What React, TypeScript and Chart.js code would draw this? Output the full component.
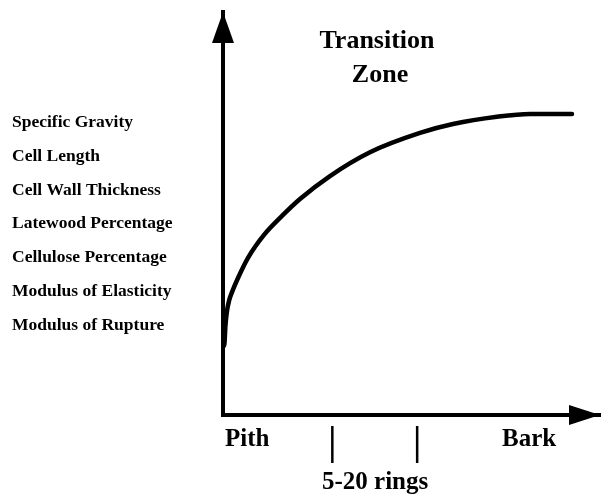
import React, { useEffect, useRef } from "react";
import { Chart, registerables } from "chart.js";

Chart.register(...registerables);

// Schematic data: radial position (pith -> bark, %) vs. relative property level (%)
const ringPosition = [0.27, 0.4, 0.66, 1.06, 1.59, 2.39, 3.98, 6.63, 10.88, 15.65, 20.42, 28.38, 38.99, 52.25, 61.01, 72.68, 81.43, 92.57];
const propertyLevel = [17.2, 17.9, 22.3, 25.8, 28.3, 30.5, 34.0, 39.0, 44.7, 49.4, 53.6, 59.3, 65.2, 70.0, 72.2, 74.0, 74.7, 74.7];

const propertyLabels = [
  "Specific Gravity",
  "Cell Length",
  "Cell Wall Thickness",
  "Latewood Percentage",
  "Cellulose Percentage",
  "Modulus of Elasticity",
  "Modulus of Rupture",
];
const titleLines = ["Transition", "Zone"];
const pithLabel = "Pith";
const barkLabel = "Bark";
const zoneLabel = "5-20 rings";
const zoneTicks = [29, 51.5]; // x positions of the transition-zone markers

const SERIF = '"Liberation Serif", "Times New Roman", serif';

const overlayPlugin = {
  id: "overlay",
  afterDraw(chart: any) {
    const ctx = chart.ctx;
    const xs = chart.scales.x;
    const ys = chart.scales.y;
    const x0 = xs.getPixelForValue(0);
    const y0 = ys.getPixelForValue(0);
    const xEnd = xs.getPixelForValue(100);
    const yTop = ys.getPixelForValue(100);
    ctx.save();
    ctx.fillStyle = "#000";
    // y arrow
    ctx.beginPath();
    ctx.moveTo(x0, yTop);
    ctx.lineTo(x0 - 11, yTop + 31);
    ctx.lineTo(x0 + 11, yTop + 31);
    ctx.closePath();
    ctx.fill();
    // x arrow
    ctx.beginPath();
    ctx.moveTo(xEnd, y0);
    ctx.lineTo(xEnd - 31, y0 - 10);
    ctx.lineTo(xEnd - 31, y0 + 10);
    ctx.closePath();
    ctx.fill();

    // tick marks of the transition zone
    ctx.strokeStyle = "#000";
    ctx.lineWidth = 2.5;
    zoneTicks.forEach((v) => {
      const px = xs.getPixelForValue(v);
      ctx.beginPath();
      ctx.moveTo(px, y0 + 11);
      ctx.lineTo(px, y0 + 48);
      ctx.stroke();
    });

    // left labels
    ctx.font = `bold 17.5px ${SERIF}`;
    ctx.textAlign = "left";
    ctx.textBaseline = "alphabetic";
    propertyLabels.forEach((t, i) => {
      ctx.fillText(t, 12, 127 + i * 33.8);
    });

    // title
    ctx.font = `bold 26px ${SERIF}`;
    ctx.textAlign = "center";
    ctx.fillText(titleLines[0], 377, 48);
    ctx.fillText(titleLines[1], 380, 82);

    // bottom labels
    ctx.font = `bold 25px ${SERIF}`;
    ctx.textAlign = "left";
    ctx.fillText(pithLabel, 225, 446);
    ctx.fillText(barkLabel, 502, 446);
    ctx.fillText(zoneLabel, 322, 489);
    ctx.restore();
  },
};

export default function App() {
  const ref = useRef<HTMLCanvasElement | null>(null);
  useEffect(() => {
    if (!ref.current) return;
    const chart = new Chart(ref.current, {
      type: "line",
      data: {
        datasets: [
          {
            data: ringPosition.map((x, i) => ({ x, y: propertyLevel[i] })),
            borderColor: "#000",
            borderWidth: 4.5,
            pointRadius: 0,
            fill: false,
            cubicInterpolationMode: "monotone",
            borderCapStyle: "round",
            borderJoinStyle: "round",
          },
        ],
      },
      options: {
        responsive: false,
        maintainAspectRatio: false,
        animation: false,
        layout: { padding: { left: 223, top: 12, right: 2, bottom: 79 } },
        plugins: { legend: { display: false }, tooltip: { enabled: false } },
        scales: {
          x: {
            type: "linear",
            min: 0,
            max: 100,
            grid: { display: false, drawTicks: false },
            ticks: { display: false },
            border: { display: true, color: "#000", width: 4 },
          },
          y: {
            type: "linear",
            min: 0,
            max: 100,
            grid: { display: false, drawTicks: false },
            ticks: { display: false },
            border: { display: true, color: "#000", width: 4 },
          },
        },
      },
      plugins: [overlayPlugin],
    });
    return () => chart.destroy();
  }, []);
  return (
    <div style={{ position: "fixed", left: 0, top: 0, width: 602, height: 494, background: "#fff" }}>
      <canvas ref={ref} width={602} height={494} />
    </div>
  );
}
